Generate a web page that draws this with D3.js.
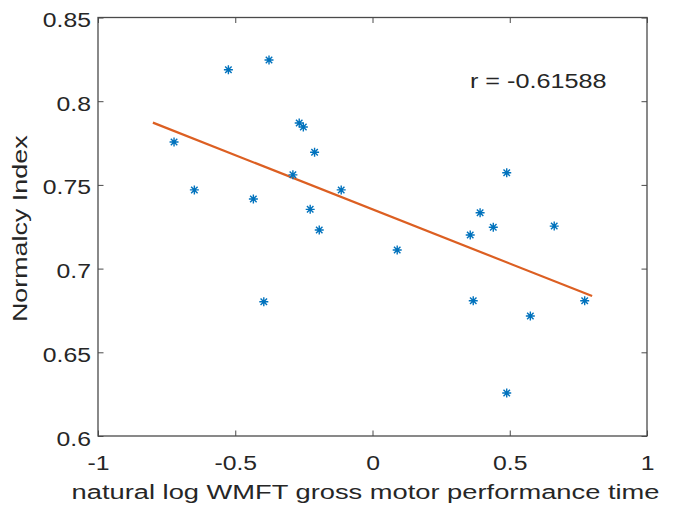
<!DOCTYPE html>
<html>
<head>
<meta charset="utf-8">
<style>
  body { margin: 0; background: #fff; }
  text { font-family: "Liberation Sans", Arial, sans-serif; fill: #262626; }
</style>
</head>
<body>
<div id="container"></div>
<script src="https://cdnjs.cloudflare.com/ajax/libs/d3/7.8.5/d3.min.js"></script>
<script>
// Scatter values.
const logWmft = [-0.723, -0.649, -0.525, -0.377, -0.267, -0.252, -0.211, -0.290, -0.434, -0.114,
                 -0.227, -0.194, -0.396, 0.090, 0.356, 0.392, 0.440, 0.489, 0.662, 0.367,
                 0.575, 0.773, 0.489];
const normalcy = [0.7756, 0.747, 0.8188, 0.8246, 0.787, 0.7846, 0.7695, 0.756, 0.7416, 0.747,
                  0.7354, 0.7231, 0.6802, 0.7111, 0.7201, 0.7334, 0.7247, 0.7573, 0.7254, 0.6808,
                  0.6717, 0.6808, 0.6257];

// Least squares fit line end points.
const fitX = [-0.8, 0.8];
const fitY = [0.7872, 0.6836];

const xTicks = [-1, -0.5, 0, 0.5, 1];
const yTicks = [0.6, 0.65, 0.7, 0.75, 0.8, 0.85];
const rLabel = "r = -0.61588";

// Chart dimensions.
const width = 679;
const height = 519;
const marginLeft = 98;
const marginRight = 32;
const marginTop = 17.5;
const marginBottom = 83;
const stretch = 1.27;   // the source text is wider than Liberation Sans
const tickLen = 5.5;
const axisColor = "#4a4a4a";

const x = d3.scaleLinear()
    .domain([-1, 1])
    .range([marginLeft, width - marginRight]);

const y = d3.scaleLinear()
    .domain([0.6, 0.85])
    .range([height - marginBottom, marginTop]);

const svg = d3.create("svg")
    .attr("width", width)
    .attr("height", height);

const fmt = d => String(+d.toFixed(2));

// Bottom axis, ticks pointing in.
svg.append("g")
    .attr("transform", `translate(0,${height - marginBottom})`)
    .call(d3.axisBottom(x).tickValues(xTicks).tickFormat(fmt).tickSizeInner(-tickLen).tickSizeOuter(0))
    .call(g => g.select(".domain").remove())
    .call(g => g.selectAll("line").attr("stroke", axisColor))
    .call(g => g.selectAll("text")
        .attr("y", 0).attr("dy", null)
        .attr("transform", `translate(0,34) scale(${stretch},1)`)
        .attr("font-size", 19.5).attr("fill", "#262626"));

// Top ticks.
svg.append("g")
    .attr("transform", `translate(0,${marginTop})`)
    .call(d3.axisTop(x).tickValues(xTicks).tickFormat("").tickSizeInner(-tickLen).tickSizeOuter(0))
    .call(g => g.select(".domain").remove())
    .call(g => g.selectAll("line").attr("stroke", axisColor));

// Left axis.
svg.append("g")
    .attr("transform", `translate(${marginLeft},0)`)
    .call(d3.axisLeft(y).tickValues(yTicks).tickFormat(fmt).tickSizeInner(-tickLen).tickSizeOuter(0))
    .call(g => g.select(".domain").remove())
    .call(g => g.selectAll("line").attr("stroke", axisColor))
    .call(g => g.selectAll("text")
        .attr("x", 0).attr("dy", "0.36em")
        .attr("transform", `translate(-7,2) scale(${stretch},1)`)
        .attr("font-size", 19.5).attr("fill", "#262626"));

// Right ticks.
svg.append("g")
    .attr("transform", `translate(${width - marginRight},0)`)
    .call(d3.axisRight(y).tickValues(yTicks).tickFormat("").tickSizeInner(-tickLen).tickSizeOuter(0))
    .call(g => g.select(".domain").remove())
    .call(g => g.selectAll("line").attr("stroke", axisColor));

// Box.
svg.append("rect")
    .attr("x", x(-1))
    .attr("y", y(0.85))
    .attr("width", x(1) - x(-1))
    .attr("height", y(0.6) - y(0.85))
    .attr("fill", "none")
    .attr("stroke", axisColor)
    .attr("stroke-width", 1.3);

// Fit line.
svg.append("path")
    .attr("fill", "none")
    .attr("stroke", "#DC5F22")
    .attr("stroke-width", 2.2)
    .attr("d", d3.line().x(d => x(d[0])).y(d => y(d[1]))(d3.zip(fitX, fitY)));

// Asterisk markers.
const r = 4.5;
const star = `M${-r},0H${r}M0,${-r}V${r}` +
    `M${-r * 0.72},${-r * 0.72}L${r * 0.72},${r * 0.72}M${-r * 0.72},${r * 0.72}L${r * 0.72},${-r * 0.72}`;

svg.append("g")
    .selectAll("path")
    .data(d3.zip(logWmft, normalcy))
    .join("path")
    .attr("transform", d => `translate(${x(d[0])},${y(d[1])})`)
    .attr("d", star)
    .attr("fill", "none")
    .attr("stroke", "#0072BD")
    .attr("stroke-width", 1.4);

// Correlation label.
svg.append("text")
    .attr("transform", `translate(${x(0.355)},${y(0.808)}) scale(1.2,1)`)
    .attr("font-size", 21)
    .text(rLabel);

// Axis titles.
svg.append("text")
    .attr("transform", `translate(${(x(-1) + x(1)) / 2 - 7},${height - 20}) scale(1.3,1)`)
    .attr("text-anchor", "middle")
    .attr("font-size", 21)
    .text("natural log WMFT gross motor performance time");

svg.append("text")
    .attr("transform", `translate(27,${(y(0.6) + y(0.85)) / 2 + 2}) rotate(-90) scale(1.28,1)`)
    .attr("text-anchor", "middle")
    .attr("font-size", 21)
    .text("Normalcy Index");

container.append(svg.node());
</script>
</body>
</html>
